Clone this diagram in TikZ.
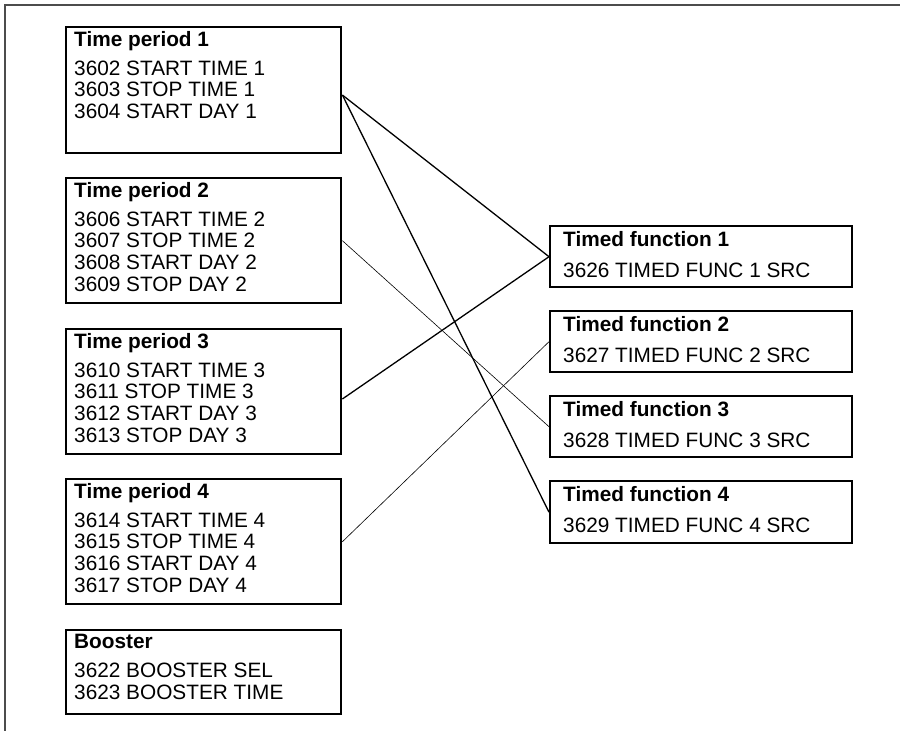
\documentclass[tikz,border=0pt]{standalone}
\usepackage{fontspec}
\setmainfont{Liberation Sans}
\usetikzlibrary{positioning}

\begin{document}
\begin{tikzpicture}[x=1pt, y=-1pt,
    periodbox/.style={draw, rectangle, line width=2.4pt, anchor=north west, inner sep=0pt, minimum width=275pt},
    funcbox/.style={draw, rectangle, line width=2.4pt, anchor=north west, inner sep=0pt, minimum width=302pt, minimum height=61pt},
    boxtext/.style={inner sep=0pt, align=left, font=\fontsize{20.8pt}{21.7pt}\selectfont},
    link/.style={line width=1.3pt},
    thinlink/.style={line width=0.6pt}]
    \useasboundingbox (0,0) rectangle (900,731);

    % Page frame (top and left only)
    \draw[black!70, line width=1.4pt] (5,731) -- (5,5) -- (900,5);

    % Time periods (left column)
    \node[periodbox, minimum height=126pt] (tp1) at (65,26) {};
    \node[boxtext, below right=5pt and 9pt of tp1.north west] (tp1t)
        {\textbf{Time period 1}\\[7.3pt]3602 START TIME 1\\3603 STOP TIME 1\\3604 START DAY 1};

    \node[periodbox, minimum height=125pt] (tp2) at (65,177) {};
    \node[boxtext, below right=5pt and 9pt of tp2.north west] (tp2t)
        {\textbf{Time period 2}\\[7.3pt]3606 START TIME 2\\3607 STOP TIME 2\\3608 START DAY 2\\3609 STOP DAY 2};

    \node[periodbox, minimum height=125pt] (tp3) at (65,328) {};
    \node[boxtext, below right=5pt and 9pt of tp3.north west] (tp3t)
        {\textbf{Time period 3}\\[7.3pt]3610 START TIME 3\\3611 STOP TIME 3\\3612 START DAY 3\\3613 STOP DAY 3};

    \node[periodbox, minimum height=125pt] (tp4) at (65,478) {};
    \node[boxtext, below right=5pt and 9pt of tp4.north west] (tp4t)
        {\textbf{Time period 4}\\[7.3pt]3614 START TIME 4\\3615 STOP TIME 4\\3616 START DAY 4\\3617 STOP DAY 4};

    % Booster
    \node[periodbox, minimum height=84pt] (boost) at (65,629) {};
    \node[boxtext, below right=5pt and 9pt of boost.north west] (boostt)
        {\textbf{Booster}\\[7.3pt]3622 BOOSTER SEL\\3623 BOOSTER TIME};

    % Timed functions (right column)
    \node[funcbox] (tf1) at (549,225) {};
    \node[boxtext, below right=6pt and 14pt of tf1.north west] (tf1t)
        {\textbf{Timed function 1}\\[9.3pt]3626 TIMED FUNC 1 SRC};

    \node[funcbox] (tf2) at (549,310) {};
    \node[boxtext, below right=6pt and 14pt of tf2.north west] (tf2t)
        {\textbf{Timed function 2}\\[9.3pt]3627 TIMED FUNC 2 SRC};

    \node[funcbox] (tf3) at (549,395) {};
    \node[boxtext, below right=6pt and 14pt of tf3.north west] (tf3t)
        {\textbf{Timed function 3}\\[9.3pt]3628 TIMED FUNC 3 SRC};

    \node[funcbox, minimum height=62pt] (tf4) at (549,480) {};
    \node[boxtext, below right=6pt and 14pt of tf4.north west] (tf4t)
        {\textbf{Timed function 4}\\[9.3pt]3629 TIMED FUNC 4 SRC};

    % Links
    \draw[link] (tp1.-2) -- (tf1.west);
    \draw[link] (tp1.-2) -- (tf4.west);
    \draw[thinlink] (tp2.east) -- (tf3.west);
    \draw[link] (tp3.-3) -- (tf1.west);
    \draw[thinlink] (tp4.east) -- (tf2.west);
\end{tikzpicture}
\end{document}
